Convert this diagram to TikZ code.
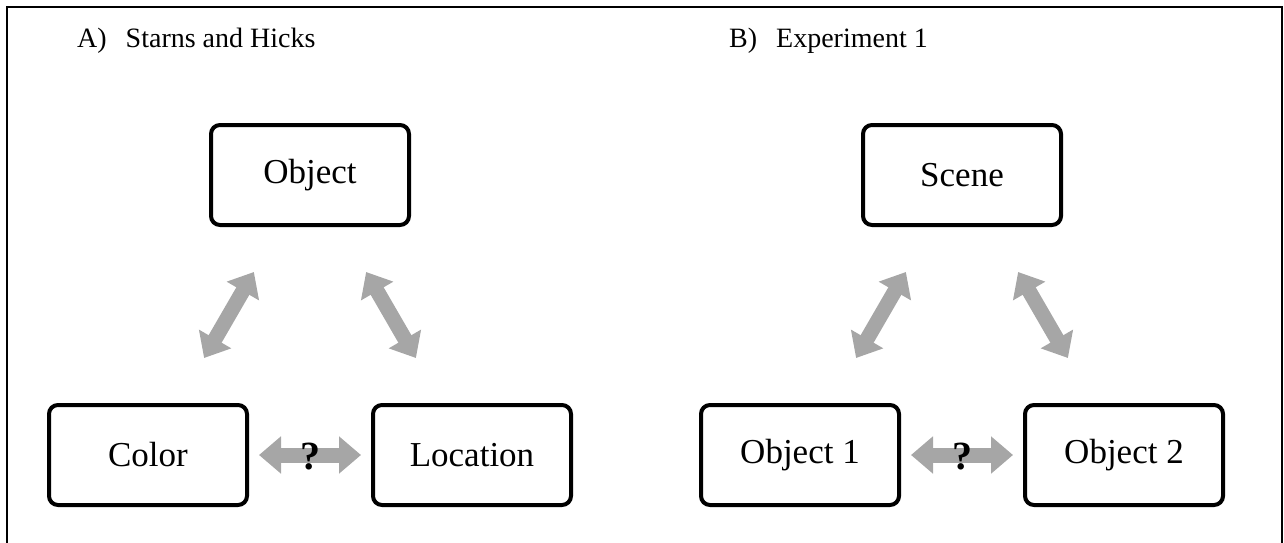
\documentclass[tikz,border=0pt]{standalone}
\usepackage{fontspec}
\setmainfont{Liberation Serif}
\usetikzlibrary{arrows.meta}
\definecolor{linkgray}{HTML}{A6A6A6}
\begin{document}
\begin{tikzpicture}[x=1pt, y=-1pt,
    box/.style={draw, line width=4pt, rounded corners=9pt, minimum width=198pt, minimum height=100pt, inner sep=0pt, font=\fontsize{35}{38}\selectfont},
    link/.style={draw=linkgray, line width=15pt, {Triangle[length=22pt,width=36pt]}-{Triangle[length=22pt,width=36pt]}},
    title/.style={anchor=base west, inner sep=0pt, font=\fontsize{28}{32}\selectfont},
    qmark/.style={inner sep=0pt, font=\fontsize{40}{44}\selectfont\bfseries}]
    \useasboundingbox (0,0) rectangle (1284,543);
    \draw[line width=2pt] (7,543) -- (7,7) -- (1282,7) -- (1282,543);
    % panel A
    \node[title] (ta) at (77,48) {A)\hspace{19pt}Starns and Hicks};
    \node[box] (obj) at (310,175) {Object};
    \node[box] (col) at (148,455) {Color};
    \node[box] (loc) at (472,455) {Location};
    \draw[link, shorten <=52pt, shorten >=52pt] (col) -- (obj);
    \draw[link, shorten <=52pt, shorten >=52pt] (loc) -- (obj);
    \draw[link, shorten <=10pt, shorten >=10pt] (col) -- node[qmark, yshift=-2pt] (qa) {?} (loc);
    % panel B
    \node[title] (tb) at (729,48) {B)\hspace{19pt}Experiment 1};
    \node[box] (scn) at (962,175) {Scene};
    \node[box] (oa) at (800,455) {Object 1};
    \node[box] (ob) at (1124,455) {Object 2};
    \draw[link, shorten <=52pt, shorten >=52pt] (oa) -- (scn);
    \draw[link, shorten <=52pt, shorten >=52pt] (ob) -- (scn);
    \draw[link, shorten <=10pt, shorten >=10pt] (oa) -- node[qmark, yshift=-2pt] (qb) {?} (ob);
\end{tikzpicture}
\end{document}
